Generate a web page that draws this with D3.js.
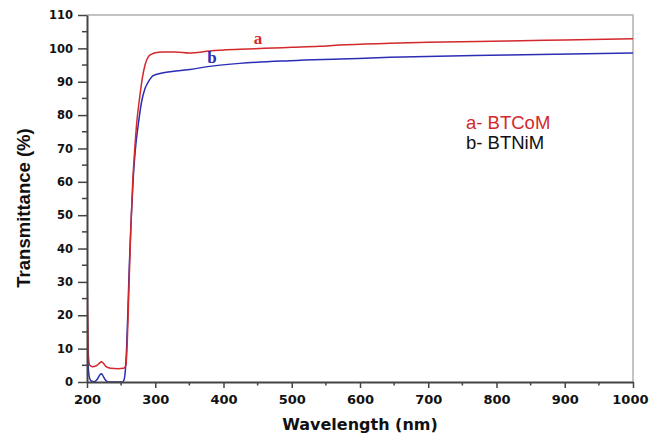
<!DOCTYPE html>
<html>
<head>
<meta charset="utf-8">
<script src="https://cdn.jsdelivr.net/npm/d3@7"></script>
<style>
  body { margin: 0; background: #fff; }
  svg { display: block; font-family: "Liberation Sans", Arial, sans-serif; }
</style>
</head>
<body>
<div id="chartContainer"></div>
<script>
// wavelength (nm) / transmittance (%)
const wlA = [200, 201, 202, 204, 208, 213, 218, 221, 224, 228, 235, 245, 254, 257, 259, 261, 264, 267, 270, 273, 277, 281, 285, 290, 295, 300, 310, 330, 350, 380, 424, 460, 500, 540, 570, 644, 700, 815, 900, 1000];
const tA  = [35, 20, 8, 5, 4.6, 4.8, 5.6, 6.1, 5.6, 4.6, 4.1, 4.0, 4.1, 5, 12, 25, 45, 60, 70, 78, 85, 91, 95, 97.5, 98.3, 98.7, 98.9, 98.9, 98.6, 99.2, 99.7, 100, 100.3, 100.6, 101.0, 101.5, 101.8, 102.2, 102.5, 102.9];

const wlB = [200, 201, 202, 204, 207, 211, 215, 219, 221, 223, 227, 231, 252, 254, 256, 258, 260, 262, 265, 268, 271, 275, 280, 285, 290, 297, 310, 330, 351, 380, 424, 498, 571, 644, 815, 1000];
const tB  = [27, 12, 4, 1, 0.2, 0.1, 0.8, 2.2, 2.5, 2.0, 0.6, 0, 0, 0.5, 3, 10, 22, 35, 50, 62, 70, 77, 84, 88, 90, 91.8, 92.6, 93.2, 93.7, 94.6, 95.5, 96.3, 96.8, 97.3, 98.0, 98.6];

const xTicks = [200, 300, 400, 500, 600, 700, 800, 900, 1000];
const yTicks = [0, 10, 20, 30, 40, 50, 60, 70, 80, 90, 100, 110];
const legendLabels = ["a- BTCoM", "b- BTNiM"];

const width = 649;
const height = 434;
const marginLeft = 87;
const marginRight = 16;
const marginTop = 15;
const marginBottom = 52;
const red = "#d3282c";
const blue = "#2b2db5";

const x = d3.scaleLinear()
  .domain([200, 1000])
  .range([marginLeft, width - marginRight]);

const y = d3.scaleLinear()
  .domain([0, 110])
  .range([height - marginBottom, marginTop]);

const svg = d3.create("svg")
  .attr("width", width)
  .attr("height", height)
  .attr("viewBox", [0, 0, width, height]);

document.getElementById("chartContainer").appendChild(svg.node());

// frame (top + right, light gray)
svg.append("path")
  .attr("d", `M${x(200)},${y(110)}H${x(1000)}V${y(0)}`)
  .attr("fill", "none")
  .attr("stroke", "#b0b0b0")
  .attr("stroke-width", 1.5);

svg.append("defs").append("clipPath")
  .attr("id", "clip")
  .append("rect")
  .attr("x", x(200))
  .attr("y", y(110))
  .attr("width", x(1000) - x(200))
  .attr("height", y(0) - y(110) + 1);

const line = d3.line()
  .x(d => x(d[0]))
  .y(d => y(d[1]))
  .curve(d3.curveMonotoneX);

const plot = svg.append("g").attr("clip-path", "url(#clip)");

plot.append("path")
  .datum(wlB.map((w, i) => [w, tB[i]]))
  .attr("fill", "none")
  .attr("stroke", blue)
  .attr("stroke-width", 1.5)
  .attr("d", line);

plot.append("path")
  .datum(wlA.map((w, i) => [w, tA[i]]))
  .attr("fill", "none")
  .attr("stroke", red)
  .attr("stroke-width", 1.5)
  .attr("d", line);

// minor ticks
const minorX = d3.range(250, 1000, 100);
const minorY = d3.range(5, 110, 10);

svg.append("g")
  .attr("stroke", "#444")
  .attr("stroke-width", 1.5)
  .selectAll()
  .data(minorX)
  .join("line")
  .attr("x1", d => x(d))
  .attr("x2", d => x(d))
  .attr("y1", y(0))
  .attr("y2", y(0) + 3.5);

svg.append("g")
  .attr("stroke", "#444")
  .attr("stroke-width", 1.5)
  .selectAll()
  .data(minorY)
  .join("line")
  .attr("x1", x(200))
  .attr("x2", x(200) - 5)
  .attr("y1", d => y(d))
  .attr("y2", d => y(d));

// axes
const gx = svg.append("g")
  .attr("transform", `translate(0,${y(0)})`)
  .call(d3.axisBottom(x).tickValues(xTicks).tickFormat(d3.format("d"))
    .tickSize(6).tickSizeOuter(0).tickPadding(7));

const gy = svg.append("g")
  .attr("transform", `translate(${x(200)},0)`)
  .call(d3.axisLeft(y).tickValues(yTicks).tickSize(9).tickSizeOuter(0).tickPadding(5));

[gx, gy].forEach(g => {
  g.select(".domain").attr("stroke", "#444").attr("stroke-width", 2);
  g.selectAll(".tick line").attr("stroke", "#444").attr("stroke-width", 1.5);
  g.selectAll("text")
    .style("font-weight", "bold")
    .style("font-family", "'DejaVu Sans', sans-serif")
    .attr("fill", "#111");
});
gx.selectAll("text").style("font-size", "13px");
gy.selectAll("text").style("font-size", "11.5px");

// last x label sits on the right edge: keep it inside the window
gx.selectAll(".tick text")
  .filter(d => d === 1000)
  .attr("text-anchor", "end")
  .attr("x", width - 1 - x(1000));

// axis titles
svg.append("text")
  .attr("text-anchor", "middle")
  .attr("x", (x(200) + x(1000)) / 2)
  .attr("y", 430)
  .style("font-family", "'DejaVu Sans', sans-serif")
  .style("font-size", "16px")
  .style("font-weight", "bold")
  .attr("fill", "#111")
  .text("Wavelength (nm)");

svg.append("text")
  .attr("text-anchor", "middle")
  .attr("transform", "rotate(-90)")
  .attr("x", -208)
  .attr("y", 30)
  .style("font-size", "18.5px")
  .style("font-weight", "bold")
  .attr("fill", "#111")
  .text("Transmittance (%)");

// curve labels
svg.append("text")
  .attr("x", 258)
  .attr("y", 44)
  .attr("text-anchor", "middle")
  .style("font-family", "'Liberation Serif', 'Times New Roman', serif")
  .style("font-size", "17px")
  .style("font-weight", "bold")
  .attr("fill", red)
  .text("a");

svg.append("text")
  .attr("x", 212)
  .attr("y", 63)
  .attr("text-anchor", "middle")
  .style("font-family", "'Liberation Serif', 'Times New Roman', serif")
  .style("font-size", "17px")
  .style("font-weight", "bold")
  .attr("fill", blue)
  .text("b");

// legend
svg.append("g")
  .selectAll()
  .data(legendLabels)
  .join("text")
  .attr("x", 466)
  .attr("y", (d, i) => 129 + i * 20)
  .style("font-size", "18.5px")
  .attr("fill", (d, i) => i === 0 ? red : "#111")
  .text(d => d);
</script>
</body>
</html>
